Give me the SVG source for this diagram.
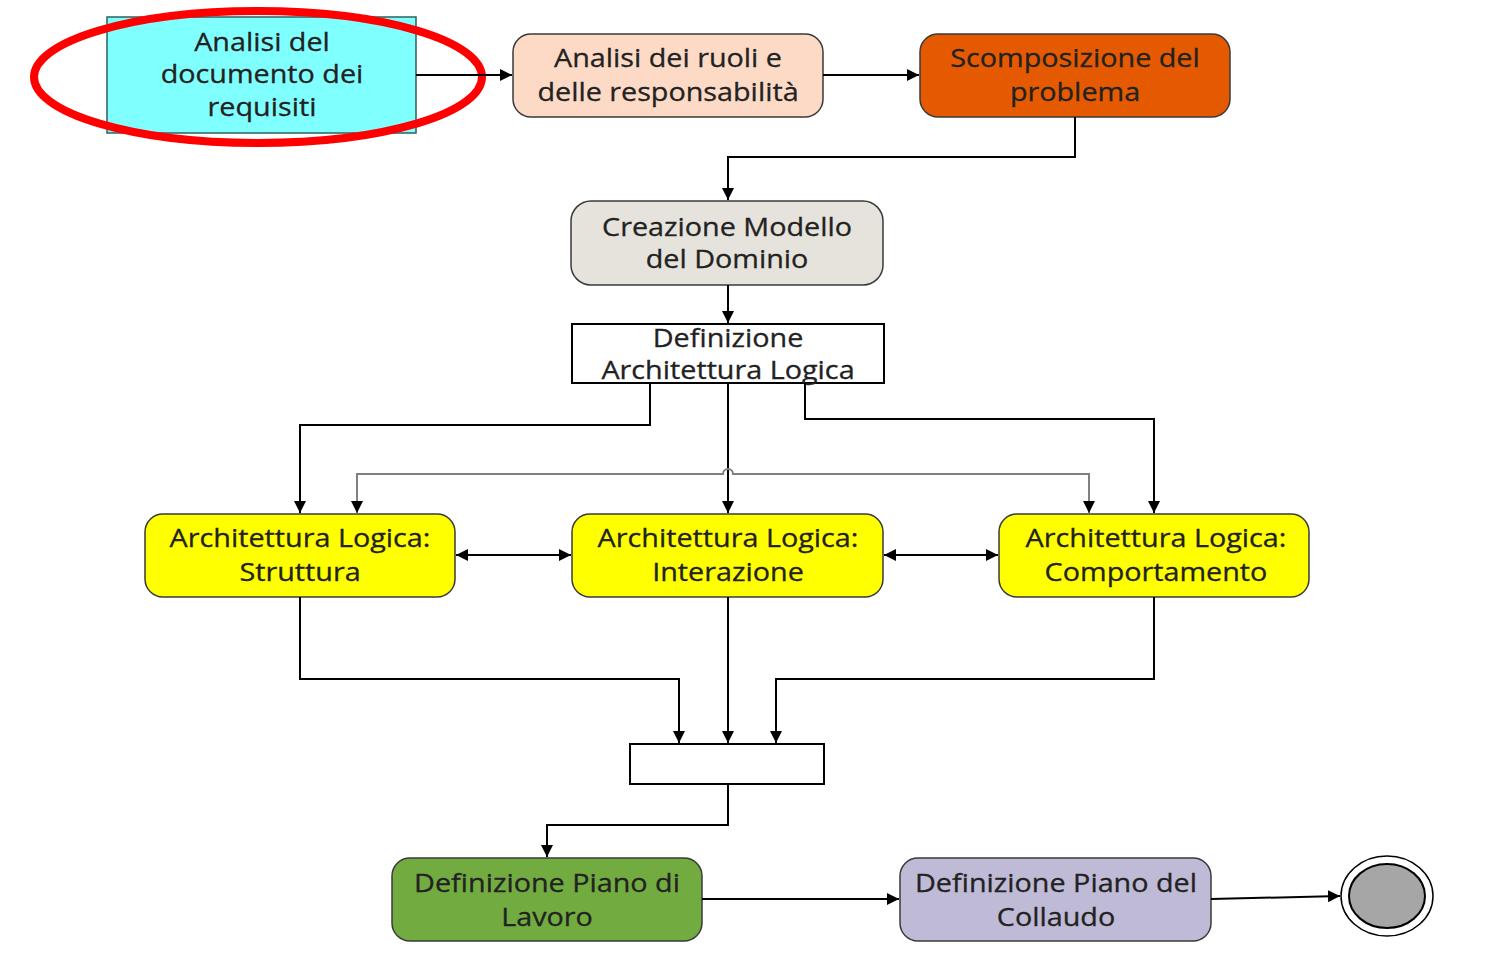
<svg xmlns="http://www.w3.org/2000/svg" width="1497" height="966" viewBox="0 0 1497 966">
<style>
.n{stroke:#3a3a3a;stroke-width:1.5}
.t{font-family:"Open Sans","Liberation Sans",sans-serif;font-size:25px;fill:#222;text-anchor:middle;stroke:#222;stroke-width:0.3}
.c{fill:none;stroke:#000;stroke-width:2}
.g{fill:none;stroke:#808080;stroke-width:2}
</style>
<defs>
<marker id="a" viewBox="0 0 10 10" refX="10" refY="5" markerWidth="12" markerHeight="12" markerUnits="userSpaceOnUse" orient="auto-start-reverse">
<path d="M0,0 L10,5 L0,10 z" fill="#000"/>
</marker>
</defs>
<rect width="1497" height="966" fill="#fff"/>

<g id="n1">
<rect x="107" y="17" width="309" height="116" fill="#80FFFF" stroke="#2f5f5f" stroke-width="1.5"/>
<g transform="translate(262 0) scale(1.15 1)">
<text class="t" x="0" y="51">Analisi del</text>
<text class="t" x="0" y="83">documento dei</text>
<text class="t" x="0" y="116">requisiti</text>
</g>
</g>
<ellipse id="highlight" cx="258" cy="77" rx="224" ry="66" fill="none" stroke="#FF0000" stroke-width="8"/>

<g id="n2">
<rect class="n" x="513" y="34" width="310" height="83" rx="18" fill="#FDDAC6"/>
<g transform="translate(668 0) scale(1.15 1)">
<text class="t" x="0" y="67">Analisi dei ruoli e</text>
<text class="t" x="0" y="101">delle responsabilità</text>
</g>
</g>

<g id="n3">
<rect class="n" x="920" y="34" width="310" height="83" rx="18" fill="#E55A00"/>
<g transform="translate(1075 0) scale(1.15 1)">
<text class="t" x="0" y="67">Scomposizione del</text>
<text class="t" x="0" y="101">problema</text>
</g>
</g>

<g id="n4">
<rect class="n" x="571" y="201" width="312" height="84" rx="20" fill="#E6E3DC"/>
<g transform="translate(727 0) scale(1.15 1)">
<text class="t" x="0" y="236">Creazione Modello</text>
<text class="t" x="0" y="268">del Dominio</text>
</g>
</g>

<g id="n5">
<rect x="572" y="324" width="312" height="59" fill="#fff" stroke="#000" stroke-width="2"/>
<g transform="translate(728 0) scale(1.15 1)">
<text class="t" x="0" y="347">Definizione</text>
<text class="t" x="0" y="379">Architettura Logica</text>
</g>
</g>

<g id="n6">
<rect class="n" x="145" y="514" width="310" height="83" rx="18" fill="#FFFF00"/>
<g transform="translate(300 0) scale(1.15 1)">
<text class="t" x="0" y="547">Architettura Logica:</text>
<text class="t" x="0" y="581">Struttura</text>
</g>
</g>

<g id="n7">
<rect class="n" x="572" y="514" width="311" height="83" rx="18" fill="#FFFF00"/>
<g transform="translate(728 0) scale(1.15 1)">
<text class="t" x="0" y="547">Architettura Logica:</text>
<text class="t" x="0" y="581">Interazione</text>
</g>
</g>

<g id="n8">
<rect class="n" x="999" y="514" width="310" height="83" rx="18" fill="#FFFF00"/>
<g transform="translate(1156 0) scale(1.15 1)">
<text class="t" x="0" y="547">Architettura Logica:</text>
<text class="t" x="0" y="581">Comportamento</text>
</g>
</g>

<g id="join">
<rect x="630" y="744" width="194" height="40" fill="#fff" stroke="#000" stroke-width="2"/>
</g>

<g id="n9">
<rect class="n" x="392" y="858" width="310" height="83" rx="18" fill="#72AC41"/>
<g transform="translate(547 0) scale(1.15 1)">
<text class="t" x="0" y="892">Definizione Piano di</text>
<text class="t" x="0" y="926">Lavoro</text>
</g>
</g>

<g id="n10">
<rect class="n" x="900" y="858" width="311" height="83" rx="18" fill="#BFBAD6"/>
<g transform="translate(1056 0) scale(1.15 1)">
<text class="t" x="0" y="892">Definizione Piano del</text>
<text class="t" x="0" y="926">Collaudo</text>
</g>
</g>

<g id="end">
<ellipse cx="1387" cy="896" rx="46" ry="40" fill="#fff" stroke="#000" stroke-width="1.5"/>
<ellipse cx="1387" cy="896" rx="38" ry="32" fill="#A6A6A6" stroke="#000" stroke-width="2"/>
</g>

<g id="connectors">
<path class="c" d="M416,75 H512" marker-end="url(#a)"/>
<path class="c" d="M823,75 H919" marker-end="url(#a)"/>
<path class="c" d="M1075,117 V157 H728 V200" marker-end="url(#a)"/>
<path class="c" d="M728,285 V323" marker-end="url(#a)"/>
<path class="c" d="M650,383 V425 H300 V513" marker-end="url(#a)"/>
<path class="c" d="M728,383 V513" marker-end="url(#a)"/>
<path class="c" d="M805,383 V419 H1154 V513" marker-end="url(#a)"/>
<path class="g" d="M357,513 V474 H723 A5,5 0 0 1 733,474 H1089 V513" marker-start="url(#a)" marker-end="url(#a)"/>
<path class="c" d="M456,555 H571" marker-start="url(#a)" marker-end="url(#a)"/>
<path class="c" d="M884,555 H998" marker-start="url(#a)" marker-end="url(#a)"/>
<path class="c" d="M300,597 V679 H679 V743" marker-end="url(#a)"/>
<path class="c" d="M728,597 V743" marker-end="url(#a)"/>
<path class="c" d="M1154,597 V679 H776 V743" marker-end="url(#a)"/>
<path class="c" d="M728,784 V825 H547 V857" marker-end="url(#a)"/>
<path class="c" d="M702,899 H899" marker-end="url(#a)"/>
<path class="c" d="M1211,899 L1340,896" marker-end="url(#a)"/>
</g>
</svg>
